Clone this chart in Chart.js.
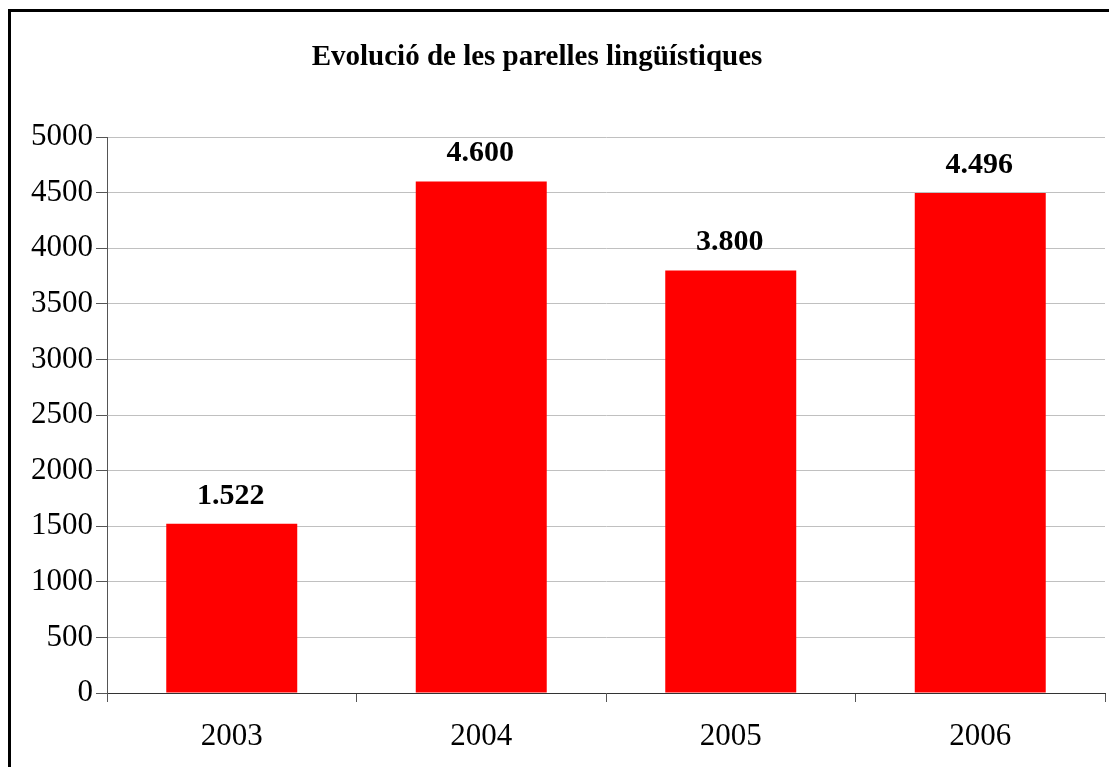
<!DOCTYPE html>
<html>
<head>
<meta charset="utf-8">
<script src="https://cdn.jsdelivr.net/npm/chart.js"></script>
<style>
  html, body { margin: 0; padding: 0; background: #fff; overflow: hidden; }
  #wrap { width: 1109px; height: 767px; }
</style>
</head>
<body>
<div id="wrap"><canvas id="chart" width="1109" height="767"></canvas></div>
<script>
// dades
const chartTitle = 'Evolució de les parelles lingüístiques';
const years = ['2003', '2004', '2005', '2006'];
const pairs = [1522, 4600, 3800, 4496];
const yTicks = [0, 500, 1000, 1500, 2000, 2500, 3000, 3500, 4000, 4500, 5000];

const serif = "'Liberation Serif', 'DejaVu Serif', serif";

function fmt(v) {
    // separador de milers amb punt
    return String(v).replace(/\B(?=(\d{3})+(?!\d))/g, '.');
}

// marc negre i títol
const framePlugin = {
    id: 'frame',
    beforeDraw(chart) {
        const ctx = chart.ctx;
        ctx.save();
        ctx.fillStyle = '#fff';
        ctx.fillRect(0, 0, chart.width, chart.height);
        ctx.strokeStyle = '#000';
        ctx.lineWidth = 3;
        ctx.strokeRect(9.5, 10.5, 1300, 900);

        ctx.font = "bold 29px " + serif;
        ctx.fillStyle = '#000';
        ctx.textAlign = 'center';
        ctx.textBaseline = 'middle';
        ctx.fillText(chartTitle, 537, 58);
        ctx.restore();
    }
};

// etiquetes de valor sobre les barres
const valueLabels = {
    id: 'valueLabels',
    afterDatasetsDraw(chart) {
        const ctx = chart.ctx;
        const meta = chart.getDatasetMeta(0);
        ctx.save();
        ctx.font = "bold 30px " + serif;
        ctx.fillStyle = '#000';
        ctx.textAlign = 'center';
        ctx.textBaseline = 'middle';
        meta.data.forEach((bar, i) => {
            ctx.fillText(fmt(pairs[i]), bar.x - 1, bar.y - 28);
        });
        ctx.restore();
    }
};

const options = {
    type: 'bar',
    data: {
        labels: years,
        datasets: [{
            data: pairs,
            backgroundColor: '#ff0000',
            borderWidth: 0,
            categoryPercentage: 1,
            barPercentage: 0.525
        }]
    },
    options: {
        responsive: false,
        animation: false,
        layout: {
            padding: { top: 137, left: 0, right: 4, bottom: 0 }
        },
        plugins: {
            legend: { display: false },
            tooltip: { enabled: false },
            title: { display: false }
        },
        scales: {
            x: {
                offset: true,
                grid: {
                    offset: true,
                    drawOnChartArea: false,
                    drawTicks: true,
                    tickLength: 9,
                    tickColor: '#555'
                },
                border: { color: '#333', width: 1 },
                ticks: {
                    color: '#000',
                    font: { family: serif, size: 31 },
                    padding: 16
                },
                afterFit(scale) { scale.height = 74; }
            },
            y: {
                min: 0,
                max: 5000,
                afterBuildTicks(scale) {
                    scale.ticks = yTicks.map(v => ({ value: v }));
                },
                grid: {
                    color: '#c0c0c0',
                    tickColor: '#555',
                    tickLength: 11
                },
                border: { color: '#555', width: 1 },
                ticks: {
                    color: '#000',
                    font: { family: serif, size: 31 },
                    padding: 3,
                    callback: (v) => String(v)
                },
                afterFit(scale) { scale.width = 107; }
            }
        }
    },
    plugins: [framePlugin, valueLabels]
};

const theChart = new Chart(document.getElementById('chart'), options);
</script>
</body>
</html>
